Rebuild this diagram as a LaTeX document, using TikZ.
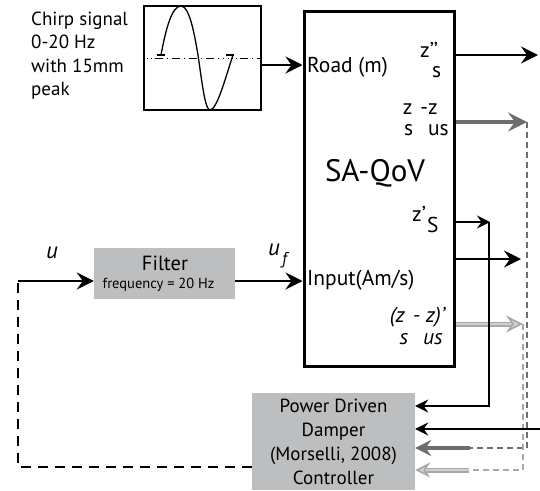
\documentclass[tikz,border=0pt]{standalone}
\usepackage{fontspec}
\setmainfont{PT Sans}
\usetikzlibrary{arrows.meta}
\definecolor{boxgray}{HTML}{BCBEC0}
\definecolor{dgray}{HTML}{6D6E71}
\definecolor{lgray}{HTML}{A7A9AC}
\definecolor{lgrayin}{HTML}{CFD0D2}
\tikzset{
  bigtip/.style={-{Stealth[length=17pt,width=17pt,inset=6pt]}},
  smalltip/.style={-{Stealth[length=13pt,width=13pt,inset=4.5pt]}},
  mainline/.style={line width=2.6pt,bigtip},
  thinline/.style={line width=1.3pt,smalltip},
  grayline/.style={draw=dgray,line width=4pt,-{Stealth[length=19pt,width=19pt,inset=7pt]}},
  lightline/.style={draw=lgray,double=lgrayin,double distance=1.8pt,line width=1.6pt,-{Stealth[length=17pt,width=17pt,inset=6pt,fill=lgrayin,line width=1.6pt]}},
  graydash/.style={draw=dgray,line width=1.3pt,dash pattern=on 6pt off 4pt},
  lightdash/.style={draw=lgray,line width=1.3pt,dash pattern=on 6pt off 4pt},
  blackdash/.style={line width=1.8pt,dash pattern=on 10pt off 7pt},
  graybox/.style={fill=boxgray,draw=none,inner sep=0pt},
  lbl/.style={font=\fontsize{21.5}{24}\selectfont,inner sep=0pt},
  ilbl/.style={font=\fontsize{21.5}{24}\selectfont\itshape,inner sep=0pt},
  chirp/.style={font=\fontsize{19}{22}\selectfont,inner sep=0pt,anchor=base west},
  ctltext/.style={font=\fontsize{19}{22}\selectfont,inner sep=0pt,anchor=base},
}
\begin{document}
\begin{tikzpicture}[x=1pt,y=-1pt]
\useasboundingbox (0,0) rectangle (540,490);

% chirp text
\node[chirp] (c1) at (31,25) {Chirp signal};
\node[chirp] (c2) at (31,48.5) {0-20 Hz};
\node[chirp] (c3) at (31,72) {with 15mm};
\node[chirp] (c4) at (31,95.5) {peak};

% signal box
\node[draw,line width=1.3pt,minimum width=117pt,minimum height=104pt,inner sep=0pt] (sig) at (202.5,58) {};
\draw[line width=0.9pt,dash pattern=on 1pt off 3pt on 1pt off 3pt on 1pt off 3pt on 8pt off 4pt on 1pt off 4pt on 8pt off 4pt on 1pt off 4pt on 8pt off 4pt on 1pt off 4pt on 8pt off 4pt on 1pt off 4pt on 1pt off 4pt]
  (sig.west) -- (sig.east);
\draw[line width=1.3pt] (157,55) -- (165,55);
\draw[line width=1.3pt] (226,55) -- (234,55);
\draw[line width=1.3pt] (161,55) .. controls (166,28) and (172,6) .. (181,6)
  .. controls (190,6) and (195,38) .. (198,55)
  .. controls (202,82) and (205,110) .. (210,110)
  .. controls (217,110) and (226,76) .. (233,55);

% main box
\node[draw,line width=3pt,minimum width=150pt,minimum height=355pt,inner sep=0pt] (sa) at (379,188.5) {};
\node[font=\fontsize{31}{34}\selectfont,inner sep=0pt] (title) at (375,173) {SA-QoV};
\node[lbl,anchor=base west] (road) at (307,72) {Road (m)};
\node[lbl,anchor=base west] (inp) at (307,285) {Input(Am/s)};
\node[lbl,anchor=base west] (l1a) at (420,57) {z’’};
\node[lbl,anchor=base west] (l1b) at (432,77) {s};
\node[lbl,anchor=base east] (l2a) at (438,114) {z\hspace{8pt}-z};
\node[lbl,anchor=base east] (l2b) at (449,135) {s\hspace{15pt}us};
\node[lbl,anchor=base west] (l3a) at (412,221) {z’};
\node[lbl,anchor=base west] (l3b) at (427,232) {S};
\node[ilbl,anchor=base east] (l4a) at (445,322) {(z\hspace{8pt}- z)’};
\node[ilbl,anchor=base east] (l4b) at (443,344) {s\hspace{15pt}us};

% filter
\node[graybox,minimum width=141pt,minimum height=51pt] (flt) at (164.5,273.5) {};
\node[ctltext,font=\fontsize{20.5}{22}\selectfont] (ft1) at (165,270) {Filter};
\node[ctltext,font=\fontsize{14.5}{16}\selectfont] (ft2) at (158.5,288) {frequency = 20 Hz};

% controller
\node[graybox,minimum width=163pt,minimum height=97pt] (ctl) at (333.5,441.5) {};
\node[ctltext] (k1) at (333.5,412) {Power Driven};
\node[ctltext] (k2) at (333.5,436) {Damper};
\node[ctltext] (k3) at (333.5,460) {(Morselli, 2008)};
\node[ctltext] (k4) at (333.5,484) {Controller};

% labels u, uf
\node[ilbl,anchor=base west,font=\fontsize{23}{25}\selectfont\itshape] (u) at (46,258) {u};
\node[ilbl,anchor=base west,font=\fontsize{23}{25}\selectfont\itshape] (uf) at (268,255) {u};
\node[ilbl,anchor=base west,font=\fontsize{17}{19}\selectfont\itshape] (ufs) at (282,264) {f};

% coordinates
\coordinate (o1) at (538,55);
\coordinate (o2) at (527,122);
\coordinate (o3) at (490,222);
\coordinate (o4) at (521,259);
\coordinate (o5) at (523,324);
\coordinate (i6) at (540,429);
\coordinate (c2) at (470,448);
\coordinate (c5) at (469,470);
\coordinate (fb) at (18,281);

% connectors
\draw[mainline] (sig.east |- 0,65) -- (sa.west |- 0,65);
\draw[mainline] (sa.east |- o1) -- (o1);
\draw[grayline] (sa.east |- o2) -- (o2);
\draw[mainline,-{Stealth[length=13pt,width=13pt,inset=4.5pt]}] (sa.east |- o3) -- (o3);
\draw[mainline] (sa.east |- o4) -- (o4);
\draw[lightline] (sa.east |- o5) -- (o5);

\draw[graydash] (o2) -- (o2 |- c2) -- (c2);
\draw[lightdash] (o5) -- (o5 |- c5) -- (c5);
\draw[thinline] (489,222) -- (489,406) -- (ctl.east |- 0,406);
\draw[thinline] (i6) -- (ctl.east |- i6);
\draw[grayline,line width=3.5pt,-{Stealth[length=16pt,width=16pt,inset=5.5pt]}] (c2) -- (ctl.east |- c2);
\draw[lightline,-{Stealth[length=15pt,width=15pt,inset=5pt,fill=lgrayin,line width=1.6pt]}] (c5) -- (ctl.east |- c5);

\draw[blackdash] (ctl.west |- 0,467) -| (fb);
\draw[mainline] (fb) -- (flt.west |- fb);
\draw[mainline] (flt.east |- fb) -- (sa.west |- fb);
\end{tikzpicture}
\end{document}
